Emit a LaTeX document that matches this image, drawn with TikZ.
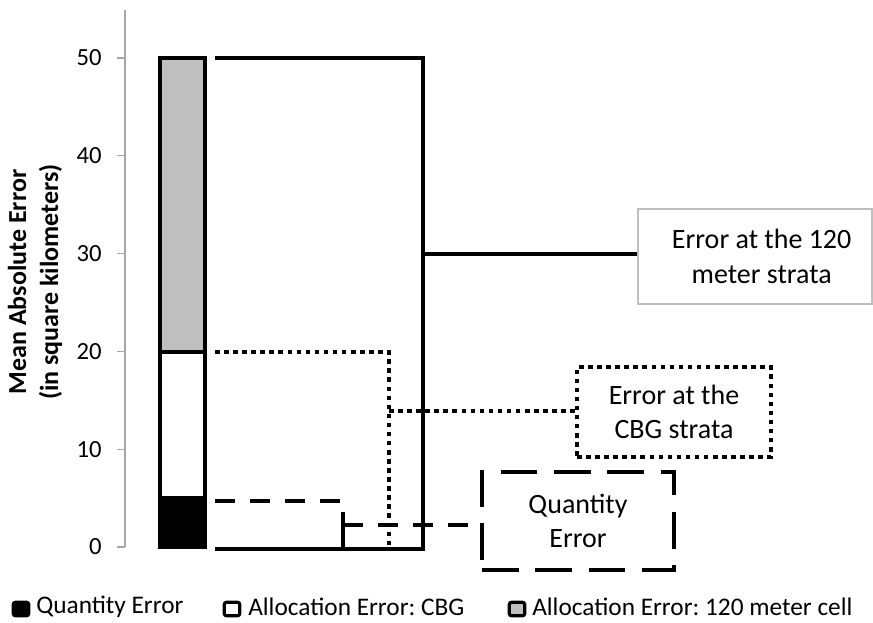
\documentclass[tikz,border=0pt]{standalone}
\usepackage{fontspec}
\setmainfont{Carlito}
\frenchspacing
\definecolor{axisgray}{HTML}{A6A6A6}
\definecolor{bargray}{HTML}{BFBFBF}
\definecolor{boxgray}{HTML}{BFBFBF}
\begin{document}
\begin{tikzpicture}[x=0.75pt,y=-0.75pt,
  thk/.style={line width=3pt, line join=miter},
  dotline/.style={line width=3pt, dash pattern=on 3.4pt off 3.4pt},
  dashline/.style={line width=3pt, dash pattern=on 15pt off 11.25pt},
  ticklabel/.style={anchor=east, inner sep=0pt, font=\fontsize{18.5}{22}\selectfont},
  legtext/.style={anchor=west, inner sep=0pt, font=\fontsize{19}{22}\selectfont},
  legsq/.style={draw=black, line width=2.4pt, rounded corners=1.5pt, minimum width=11.5pt, minimum height=10pt, inner sep=0pt},
  boxtext/.style={align=center, font=\fontsize{21}{26}\selectfont, inner sep=0pt}]
\useasboundingbox (0,0) rectangle (873,622);
\fill[white] (0,0) rectangle (873,622);

% axis
\draw[axisgray, line width=0.9pt] (125,10) -- (125,547);
\foreach \v/\y in {0/547,10/449.2,20/351.4,30/253.6,40/155.8,50/58}{
  \draw[axisgray, line width=0.9pt] (117,\y) -- (125,\y);
}
\node[ticklabel] (t0) at (102,547) {0};
\node[ticklabel] (t10) at (102,449.2) {10};
\node[ticklabel] (t20) at (102,351.4) {20};
\node[ticklabel] (t30) at (102,253.6) {30};
\node[ticklabel] (t40) at (102,155.8) {40};
\node[ticklabel] (t50) at (102,58) {50};

% axis title
\node[rotate=90, align=center, font=\bfseries\fontsize{19.5}{24}\selectfont] (ytitle) at (35,282)
  {Mean Absolute Error\\(in square kilometers)};

% stacked bar
\draw[thk, fill=bargray] (160,58) rectangle (205,352);
\draw[thk, fill=white] (160,352) rectangle (205,498);
\draw[thk, fill=black] (160,498) rectangle (205,547);

% label boxes
\node[draw=boxgray, line width=1.1pt, minimum width=175.5pt, minimum height=71.25pt, boxtext] (b120) at (755,256.5)
  {\hspace*{10pt}Error at the 120\\\hspace*{10pt}meter strata};
\node[draw=black, dotline, minimum width=145.5pt, minimum height=67.5pt, boxtext] (bcbg) at (674,412)
  {Error at the\\CBG strata};
\node[draw=black, line width=3pt, dash pattern=on 27.5pt off 12.5pt, minimum width=144pt, minimum height=73.5pt, boxtext] (bqty) at (578,521)
  {Quantity\\Error};

% brackets and connectors
\coordinate (s1) at (215,58);
\coordinate (s2) at (423,58);
\coordinate (s3) at (423,549);
\coordinate (s4) at (215,549);
\coordinate (sc) at (423,253.6);
\draw[thk] (s1) -- (s2) -- (s3) -- (s4);
\draw[thk] (sc) -- (sc -| b120.west);

\coordinate (d1) at (215,352);
\coordinate (d2) at (389,352);
\coordinate (d3) at (389,549);
\coordinate (dc) at (389,411);
\draw[dotline] (d1) -- (d2) -- (d3);
\draw[dotline] (dc) -- (dc -| bcbg.west);

\coordinate (q1) at (215,501);
\coordinate (q2) at (343,501);
\coordinate (q2b) at (343,512);
\coordinate (q3) at (343,549);
\coordinate (qc) at (343,525);
\draw[dashline] (q1) -- (q2);
\draw[line width=3pt] (q2b) -- (q3);
\draw[dashline] (qc) -- (qc -| bqty.west);

% legend
\node[legsq, fill=black] (lq) at (21,609) {};
\node[legtext] (lqt) at (36,607) {Quantity Error};
\node[legsq, fill=white] (lc) at (232,609) {};
\node[legtext] (lct) at (248,607) {Allocation Error: CBG};
\node[legsq, fill=bargray] (lm) at (517,609) {};
\node[legtext] (lmt) at (532,607) {Allocation Error: 120 meter cell};
\end{tikzpicture}
\end{document}
